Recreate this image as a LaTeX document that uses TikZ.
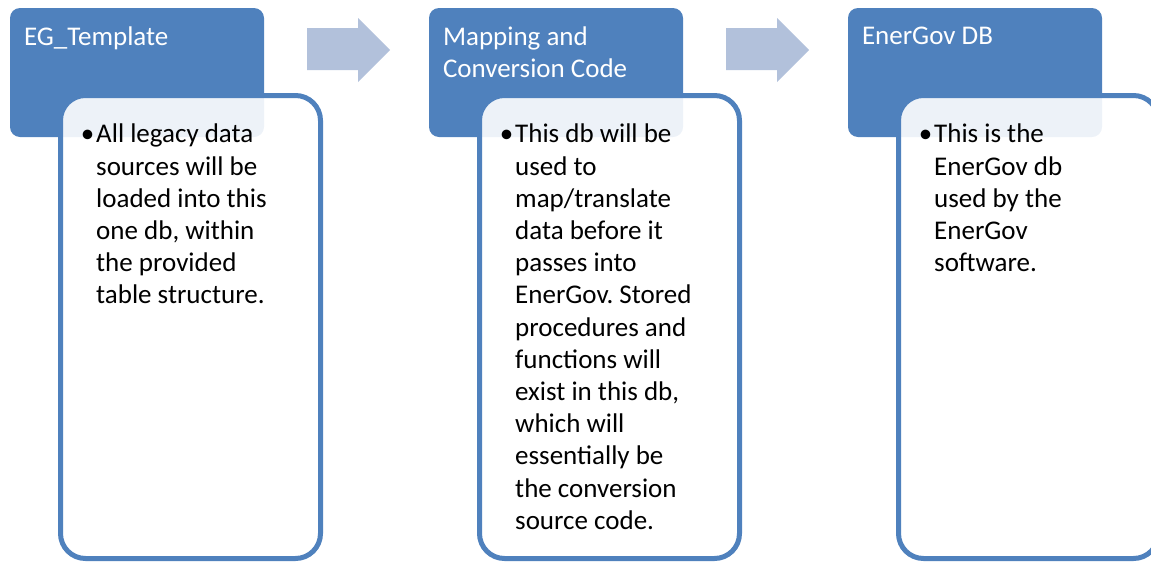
\documentclass[tikz,border=0pt]{standalone}
\usepackage{fontspec}
\setmainfont{Carlito}
\usetikzlibrary{positioning}
\definecolor{egblue}{HTML}{4F81BD}
\definecolor{egarrow}{HTML}{B2C1DB}
\frenchspacing

\begin{document}
\begin{tikzpicture}[x=1pt,y=-1pt,node distance=419pt,
    head/.style={rectangle, rounded corners=10pt, fill=egblue, minimum width=254pt, minimum height=129pt, inner sep=0pt},
    body/.style={rectangle, rounded corners=25pt, draw=egblue, line width=5pt, fill=white, fill opacity=0.9, minimum width=260pt, minimum height=463pt, inner sep=0pt},
    title/.style={anchor=north west, text=white, align=left, inner sep=0pt, font=\fontsize{27}{32.2}\selectfont},
    item/.style={anchor=north west, align=left, inner sep=0pt, font=\fontsize{27}{32.2}\selectfont},
    flow/.style={fill=egarrow}]

    \useasboundingbox (0,0) rectangle (1151,563);

    % headers
    \node[head] (h1) at (137,72.5) {};
    \node[head] (h2) [right of=h1] {};
    \node[head] (h3) [right of=h2] {};

    \node[title, xshift=14pt, yshift=-19pt] (t1) at (h1.north west) {EG\_Template};
    \node[title, xshift=14pt, yshift=-19pt] (t2) at (h2.north west) {Mapping and\\Conversion Code};
    \node[title, xshift=14pt, yshift=-19pt] (t3) at (h3.north west) {EnerGov DB};

    % arrows between the steps
    \fill[flow] (307,28) -- (358,28) -- (358,18) -- (390,50) -- (358,82) -- (358,70) -- (307,70) -- cycle;
    \fill[flow] (726,28) -- (777,28) -- (777,18) -- (809,50) -- (777,82) -- (777,70) -- (726,70) -- cycle;

    % text boxes
    \node[body] (b1) at (190.5,327) {};
    \node[body] (b2) [right of=b1] {};
    \node[body] (b3) [right of=b2] {};

    \node[item, xshift=38pt, yshift=-31pt] (i1) at (b1.north west)
      {\llap{\textbullet\kern2pt}All legacy data\\sources will be\\loaded into this\\one db, within\\the provided\\table structure.};
    \node[item, xshift=38pt, yshift=-31pt] (i2) at (b2.north west)
      {\llap{\textbullet\kern2pt}This db will be\\used to\\map/translate\\data before it\\passes into\\EnerGov. Stored\\procedures and\\functions will\\exist in this db,\\which will\\essentially be\\the conversion\\source code.};
    \node[item, xshift=38pt, yshift=-31pt] (i3) at (b3.north west)
      {\llap{\textbullet\kern2pt}This is the\\EnerGov db\\used by the\\EnerGov\\software.};
\end{tikzpicture}
\end{document}
